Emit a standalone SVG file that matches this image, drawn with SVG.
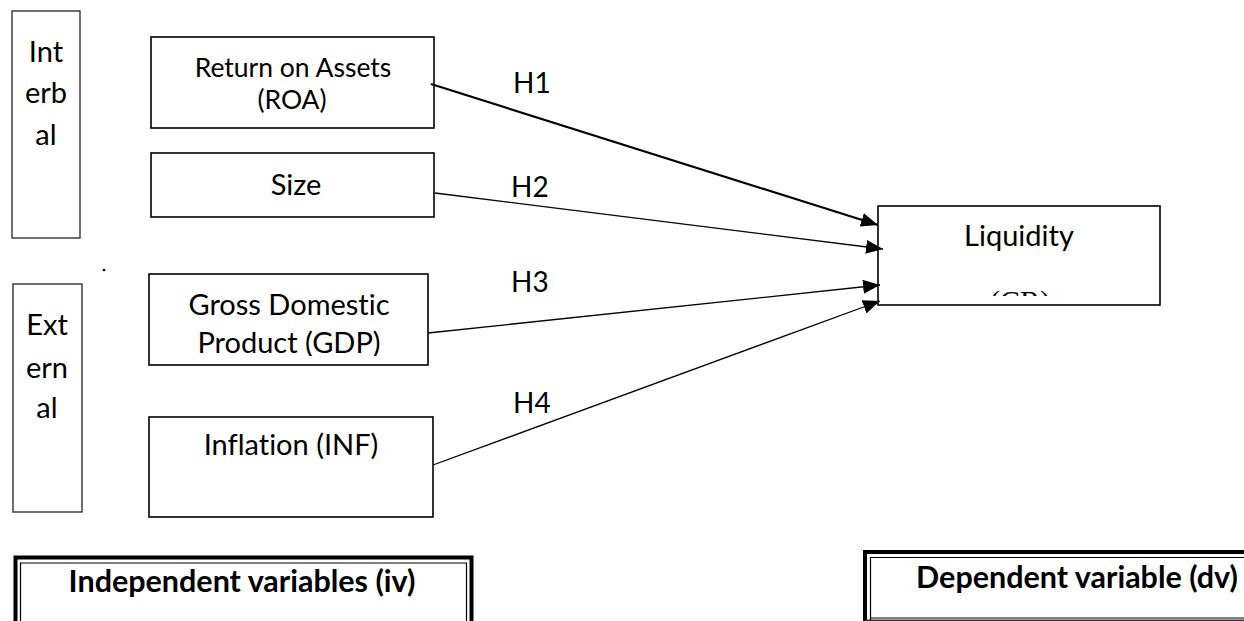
<svg xmlns="http://www.w3.org/2000/svg" width="1244" height="621" viewBox="0 0 1244 621">
<style>
.box{fill:#fff;stroke:#000;stroke-width:1.6}
.gbox{fill:#fff;stroke:#333;stroke-width:1.4}
.t{font-family:Lato,"Liberation Sans",sans-serif;font-size:29px;fill:#000;text-anchor:middle;font-variant-ligatures:none}
.h{font-family:Lato,"Liberation Sans",sans-serif;font-size:28px;fill:#000}
.b{font-family:Lato,"Liberation Sans",sans-serif;font-size:30.5px;font-weight:bold;fill:#000;text-anchor:middle}
.edge{stroke:#000;fill:none;stroke-width:1.3}
.thick{stroke:#000;fill:none;stroke-width:4}
.thin{stroke:#000;fill:none;stroke-width:1.2}
</style>
<defs>
<marker id="ah" markerUnits="userSpaceOnUse" markerWidth="18" markerHeight="14" refX="17" refY="7" orient="auto">
<path d="M0,0 L17,7 L0,14 z" fill="#000"/>
</marker>
<clipPath id="cgdp"><rect x="140" y="270" width="300" height="86"/></clipPath>
<clipPath id="ccr"><rect x="870" y="200" width="300" height="96"/></clipPath>
</defs>

<g id="internal">
<rect class="gbox" x="12" y="11" width="68" height="227"/>
<text class="t" x="46" y="62">Int</text>
<text class="t" x="46" y="103">erb</text>
<text class="t" x="46" y="145">al</text>
</g>

<g id="external">
<rect class="gbox" x="13" y="284" width="69" height="228"/>
<text class="t" x="47" y="335">Ext</text>
<text class="t" x="47" y="378">ern</text>
<text class="t" x="47" y="418">al</text>
</g>

<circle cx="104" cy="270" r="1.3" fill="#000"/>

<g id="roa">
<rect class="box" x="151" y="37" width="283" height="91"/>
<text class="t" x="293" y="77" style="font-size:26.5px">Return on Assets</text>
<text class="t" x="292" y="109" style="font-size:26.5px">(ROA)</text>
</g>

<g id="size">
<rect class="box" x="151" y="153" width="283" height="64"/>
<text class="t" x="296" y="195">Size</text>
</g>

<g id="gdp">
<rect class="box" x="149" y="274" width="279" height="91"/>
<g clip-path="url(#cgdp)">
<text class="t" x="289" y="315">Gross Domestic</text>
<text class="t" x="289" y="353">Product (GDP)</text>
</g>
</g>

<g id="inf">
<rect class="box" x="149" y="417" width="284" height="100"/>
<text class="t" x="291" y="455">Inflation (INF)</text>
</g>

<g id="liquidity">
<rect class="box" x="878" y="206" width="282" height="99"/>
<text class="t" x="1019" y="246">Liquidity</text>
<g clip-path="url(#ccr)">
<text x="1020" y="311" font-family="'Liberation Serif',serif" font-size="30" text-anchor="middle" fill="#000">(CR)</text>
</g>
</g>

<g id="connectors">
<line class="edge" x1="431" y1="84" x2="878" y2="225" style="stroke-width:2.2" marker-end="url(#ah)"/>
<line class="edge" x1="435" y1="193" x2="883" y2="249" marker-end="url(#ah)"/>
<line class="edge" x1="428" y1="333" x2="880" y2="285" marker-end="url(#ah)"/>
<line class="edge" x1="433" y1="465" x2="880" y2="301" marker-end="url(#ah)"/>
<text class="h" x="513" y="93">H1</text>
<text class="h" x="511" y="197">H2</text>
<text class="h" x="511" y="292">H3</text>
<text class="h" x="513" y="413">H4</text>
</g>

<g id="iv-label">
<path class="thick" d="M15.5,640 V557.5 H471.5 V640"/>
<path class="thin" d="M20.5,640 V563 H466.5 V640"/>
<text class="b" x="242" y="592">Independent variables (iv)</text>
</g>

<g id="dv-label">
<path class="thick" d="M865,640 V552 H1260"/>
<path class="thin" d="M870.5,620 V557.5 H1260"/>
<path d="M870,618 H1260" stroke="#000" stroke-width="1.2"/>
<path d="M865,621 H1260" stroke="#333" stroke-width="3"/>
<text class="b" x="1077" y="588">Dependent variable (dv)</text>
</g>
</svg>
